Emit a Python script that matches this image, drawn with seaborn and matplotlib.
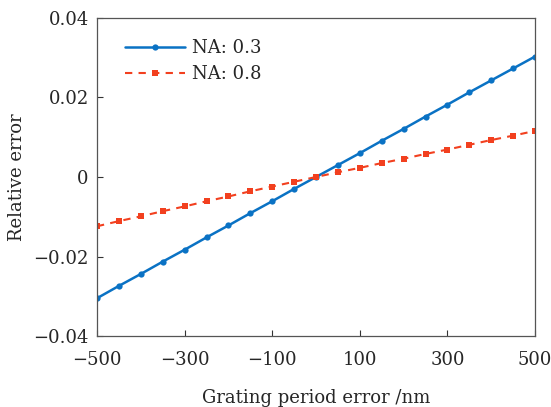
import matplotlib
matplotlib.use("Agg")
import matplotlib.pyplot as plt
import seaborn as sns
import pandas as pd

# grating period error (nm)
period_error = [-500, -450, -400, -350, -300, -250, -200, -150, -100, -50, 0,
                50, 100, 150, 200, 250, 300, 350, 400, 450, 500]
# relative error, NA = 0.3
rel_na03 = [-0.0305, -0.0274, -0.0244, -0.0213, -0.0183, -0.0152, -0.0122,
            -0.0091, -0.0061, -0.0030, 0.0, 0.0030, 0.0060, 0.0091, 0.0121,
            0.0152, 0.0182, 0.0213, 0.0243, 0.0273, 0.0303]
# relative error, NA = 0.8
rel_na08 = [-0.0124, -0.0111, -0.0099, -0.0086, -0.0074, -0.0061, -0.0049,
            -0.0036, -0.0024, -0.0012, 0.0, 0.0012, 0.0023, 0.0035, 0.0046,
            0.0058, 0.0069, 0.0081, 0.0093, 0.0104, 0.0116]

xticks = [-500, -300, -100, 100, 300, 500]
yticks = [-0.04, -0.02, 0, 0.02, 0.04]
ytick_labels = ["\u22120.04", "\u22120.02", "0", "0.02", "0.04"]
xtick_labels = [str(v).replace("-", "\u2212") for v in xticks]

sns.set_style("ticks")
plt.rcParams["font.family"] = ["DejaVu Serif"]
plt.rcParams["xtick.direction"] = "in"
plt.rcParams["ytick.direction"] = "in"

df = pd.DataFrame({"x": period_error, "NA: 0.3": rel_na03, "NA: 0.8": rel_na08})

fig = plt.figure(figsize=(5.51, 4.07), dpi=100)
ax = fig.add_axes([97 / 551, 1 - 336 / 407, (535 - 97) / 551, (336 - 18) / 407])

sns.lineplot(data=df, x="x", y="NA: 0.3", ax=ax, color="#0a72c4", lw=1.8,
             marker="o", markersize=4.5, markeredgewidth=0, label="NA: 0.3")
sns.lineplot(data=df, x="x", y="NA: 0.8", ax=ax, color="#f2401f", lw=1.5,
             marker="s", markersize=4, markeredgewidth=0, linestyle=(0, (3.5, 3)),
             label="NA: 0.8")

ax.set_xlim(-500, 500)
ax.set_ylim(-0.04, 0.04)
ax.set_xticks(xticks, labels=xtick_labels)
ax.set_yticks(yticks, labels=ytick_labels)
ax.tick_params(labelsize=13, length=4, width=0.8, color="#333333", pad=6)
ax.tick_params(axis="x", pad=11)
for s in ax.spines.values():
    s.set_visible(True)
    s.set_color("#555555")
    s.set_linewidth(0.9)

ax.set_xlabel("Grating period error /nm", fontsize=13, labelpad=14)
ax.set_ylabel("Relative error", fontsize=13, labelpad=5)

leg = ax.legend(loc="upper left", frameon=False, fontsize=13, handlelength=3.3,
                handletextpad=0.4, labelspacing=0.45, borderaxespad=0.6,
                bbox_to_anchor=(0.023, 0.99))

fig.savefig("out.png", dpi=100)
